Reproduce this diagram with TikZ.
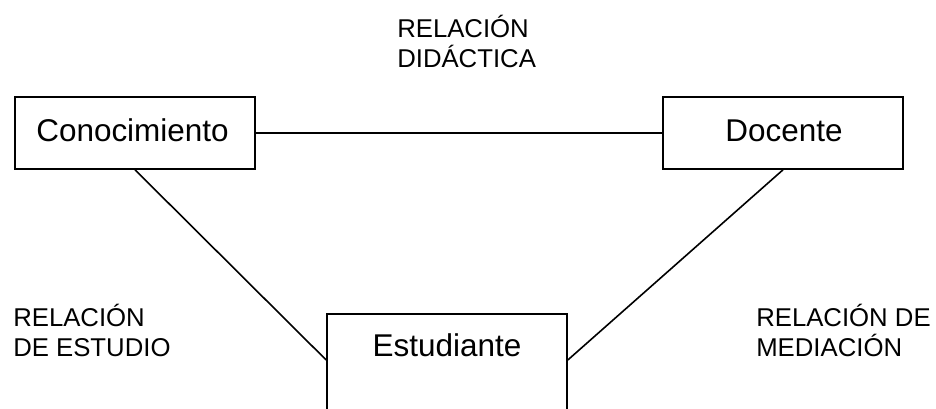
\documentclass[tikz,border=0pt]{standalone}
\usepackage{fontspec}
\setmainfont{Liberation Sans}
\usetikzlibrary{calc}
\begin{document}
\begin{tikzpicture}[x=0.75pt,y=-0.75pt,
  box/.style={draw,line width=1.2pt,minimum width=180pt,minimum height=54pt,inner sep=0pt},
  main/.style={font=\fontsize{23.6}{27}\selectfont,inner sep=0pt,anchor=base},
  rel/.style={font=\fontsize{19.3}{22.5}\selectfont,inner sep=0pt,anchor=base west,align=left},
  conn/.style={line width=1.2pt}]
\clip (0,0) rectangle (936,408);
\fill[white] (0,0) rectangle (936,408);
% boxes
\node[box] (con) at (135,133) {};
\node[box] (doc) at (783,133) {};
\node[box,minimum height=100pt,anchor=north] (est) at (447,313) {};
% box texts
\node[main] (contxt) at (132.5,141) {Conocimiento};
\node[main] (doctxt) at (784,141) {Docente};
\node[main] (esttxt) at (447,356) {Estudiante};
% connector ends on Estudiante
\coordinate (estL) at ($(est.north west)+(0,47)$);
\coordinate (estR) at ($(est.north east)+(0,47)$);
% connectors
\draw[conn] (con.east) -- (doc.west);
\draw[conn] (con.south) -- (estL);
\draw[conn] (doc.south) -- (estR);
% relation labels
\node[rel] (rdid) at (397,67) {RELACIÓN\\DIDÁCTICA};
\node[rel] (rest) at (13,356) {RELACIÓN\\DE ESTUDIO};
\node[rel] (rmed) at (756,356) {RELACIÓN DE\\MEDIACIÓN};
\end{tikzpicture}
\end{document}
